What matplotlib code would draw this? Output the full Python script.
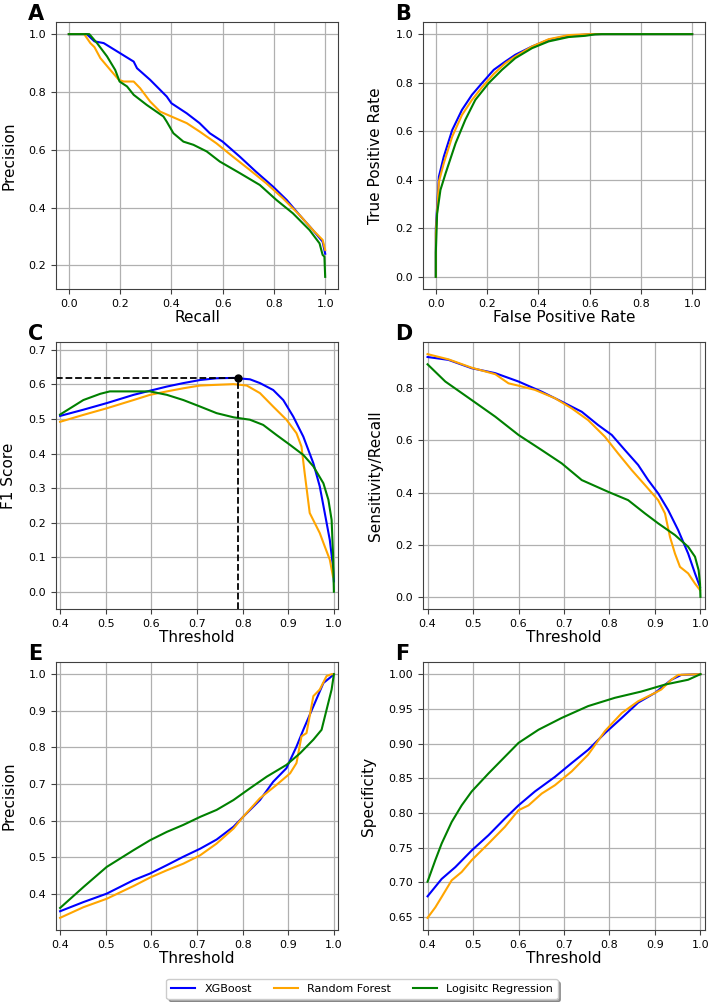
import matplotlib.pyplot as plt
import numpy as np

models = ["XGBoost", "Random Forest", "Logisitc Regression"]
colors = ["blue", "orange", "green"]

# A: precision-recall
pr_xgb_r = [0.0, 0.07, 0.10, 0.136, 0.2, 0.253, 0.266, 0.317, 0.382, 0.4, 0.46, 0.51, 0.55, 0.60, 0.667, 0.73, 0.797, 0.85, 0.9, 0.952, 0.99, 1.0]
pr_xgb_p = [1.0, 1.0, 0.975, 0.969, 0.934, 0.905, 0.882, 0.842, 0.784, 0.761, 0.726, 0.692, 0.657, 0.628, 0.576, 0.524, 0.472, 0.426, 0.374, 0.322, 0.282, 0.24]
pr_rf_r = [0.0, 0.06, 0.084, 0.1, 0.123, 0.162, 0.195, 0.214, 0.253, 0.278, 0.317, 0.356, 0.4, 0.46, 0.51, 0.576, 0.64, 0.706, 0.77, 0.835, 0.9, 0.952, 0.99, 1.0]
pr_rf_p = [1.0, 1.0, 0.969, 0.955, 0.917, 0.876, 0.842, 0.836, 0.836, 0.813, 0.767, 0.732, 0.715, 0.692, 0.663, 0.622, 0.576, 0.530, 0.484, 0.432, 0.374, 0.322, 0.288, 0.253]
pr_lr_r = [0.0, 0.08, 0.11, 0.149, 0.181, 0.198, 0.227, 0.253, 0.304, 0.369, 0.382, 0.408, 0.447, 0.486, 0.538, 0.589, 0.667, 0.745, 0.81, 0.874, 0.939, 0.978, 0.99, 0.997, 1.0]
pr_lr_p = [1.0, 1.0, 0.969, 0.923, 0.876, 0.836, 0.819, 0.79, 0.755, 0.715, 0.697, 0.657, 0.628, 0.617, 0.594, 0.559, 0.519, 0.478, 0.426, 0.38, 0.322, 0.276, 0.236, 0.23, 0.16]

# B: ROC
roc_xgb_f = [0.0, 0.0, 0.012, 0.031, 0.064, 0.102, 0.141, 0.18, 0.226, 0.271, 0.31, 0.375, 0.44, 0.518, 0.595, 0.647, 1.0]
roc_xgb_t = [0.0, 0.2, 0.413, 0.495, 0.605, 0.688, 0.75, 0.798, 0.853, 0.887, 0.915, 0.949, 0.977, 0.993, 0.999, 1.0, 1.0]
roc_rf_f = [0.0, 0.0, 0.012, 0.031, 0.064, 0.102, 0.141, 0.18, 0.226, 0.271, 0.31, 0.375, 0.44, 0.518, 0.595, 1.0]
roc_rf_t = [0.0, 0.18, 0.392, 0.468, 0.578, 0.667, 0.729, 0.781, 0.836, 0.88, 0.908, 0.949, 0.979, 0.996, 1.0, 1.0]
roc_lr_f = [0.0, 0.0, 0.005, 0.018, 0.038, 0.077, 0.115, 0.154, 0.206, 0.258, 0.31, 0.375, 0.44, 0.518, 0.582, 0.621, 0.647, 1.0]
roc_lr_t = [0.0, 0.1, 0.26, 0.358, 0.426, 0.55, 0.647, 0.729, 0.798, 0.853, 0.901, 0.942, 0.97, 0.988, 0.993, 0.999, 1.0, 1.0]

# C: F1 vs threshold
f1_xgb_t = [0.4, 0.451, 0.502, 0.561, 0.597, 0.634, 0.67, 0.707, 0.743, 0.78, 0.816, 0.838, 0.867, 0.889, 0.911, 0.933, 0.955, 0.969, 0.98, 0.991, 0.998, 1.0]
f1_xgb_f = [0.509, 0.527, 0.546, 0.57, 0.582, 0.594, 0.604, 0.613, 0.618, 0.619, 0.615, 0.604, 0.584, 0.555, 0.507, 0.449, 0.372, 0.305, 0.228, 0.15, 0.073, 0.03]
f1_rf_t = [0.4, 0.451, 0.502, 0.561, 0.597, 0.634, 0.67, 0.707, 0.743, 0.78, 0.809, 0.838, 0.867, 0.896, 0.918, 0.929, 0.936, 0.947, 0.958, 0.969, 0.98, 0.991, 0.998]
f1_rf_f = [0.492, 0.512, 0.531, 0.555, 0.57, 0.58, 0.589, 0.597, 0.599, 0.601, 0.597, 0.575, 0.536, 0.498, 0.459, 0.42, 0.343, 0.228, 0.199, 0.17, 0.131, 0.093, 0.044]
f1_lr_t = [0.4, 0.451, 0.488, 0.509, 0.561, 0.597, 0.634, 0.67, 0.707, 0.743, 0.78, 0.816, 0.845, 0.874, 0.904, 0.933, 0.955, 0.977, 0.988, 0.995, 0.998, 1.0]
f1_lr_f = [0.513, 0.555, 0.573, 0.58, 0.58, 0.58, 0.57, 0.555, 0.536, 0.517, 0.505, 0.498, 0.483, 0.454, 0.425, 0.396, 0.363, 0.314, 0.266, 0.208, 0.112, 0.0]
best_t, best_f1 = 0.79, 0.619

# D: sensitivity vs threshold
se_xgb_t = [0.4, 0.446, 0.497, 0.549, 0.6, 0.651, 0.695, 0.739, 0.775, 0.805, 0.834, 0.863, 0.885, 0.907, 0.929, 0.951, 0.973, 0.988, 0.999]
se_xgb_s = [0.92, 0.909, 0.877, 0.858, 0.826, 0.787, 0.749, 0.71, 0.659, 0.621, 0.563, 0.506, 0.448, 0.397, 0.333, 0.256, 0.166, 0.09, 0.038]
se_rf_t = [0.4, 0.446, 0.497, 0.549, 0.578, 0.6, 0.636, 0.68, 0.717, 0.753, 0.79, 0.819, 0.849, 0.878, 0.907, 0.922, 0.933, 0.944, 0.955, 0.973, 0.988, 0.999]
se_rf_s = [0.931, 0.911, 0.879, 0.854, 0.819, 0.81, 0.794, 0.762, 0.723, 0.678, 0.614, 0.55, 0.486, 0.429, 0.371, 0.32, 0.23, 0.166, 0.115, 0.09, 0.051, 0.026]
se_lr_t = [0.4, 0.439, 0.497, 0.549, 0.6, 0.651, 0.695, 0.739, 0.797, 0.841, 0.878, 0.907, 0.944, 0.973, 0.988, 0.996, 0.999, 1.0]
se_lr_s = [0.892, 0.826, 0.755, 0.691, 0.621, 0.563, 0.512, 0.448, 0.403, 0.371, 0.32, 0.282, 0.237, 0.192, 0.154, 0.102, 0.051, 0.0]

# E: precision vs threshold
pt_xgb_t = [0.4, 0.451, 0.502, 0.561, 0.597, 0.634, 0.67, 0.707, 0.743, 0.78, 0.801, 0.838, 0.867, 0.896, 0.918, 0.933, 0.955, 0.977, 0.991, 1.0]
pt_xgb_p = [0.352, 0.377, 0.4, 0.437, 0.455, 0.478, 0.501, 0.523, 0.548, 0.583, 0.61, 0.656, 0.706, 0.743, 0.802, 0.848, 0.912, 0.976, 0.99, 1.0]
pt_rf_t = [0.4, 0.451, 0.502, 0.561, 0.597, 0.634, 0.67, 0.707, 0.743, 0.78, 0.801, 0.838, 0.874, 0.904, 0.918, 0.929, 0.94, 0.955, 0.969, 0.984, 0.995, 1.0]
pt_rf_p = [0.334, 0.363, 0.386, 0.421, 0.444, 0.464, 0.482, 0.505, 0.537, 0.578, 0.61, 0.661, 0.697, 0.729, 0.757, 0.83, 0.839, 0.94, 0.958, 0.995, 1.0, 1.0]
pt_lr_t = [0.4, 0.451, 0.502, 0.561, 0.597, 0.634, 0.67, 0.707, 0.743, 0.78, 0.816, 0.853, 0.896, 0.926, 0.955, 0.973, 0.984, 0.995, 1.0]
pt_lr_p = [0.361, 0.418, 0.473, 0.519, 0.546, 0.569, 0.588, 0.61, 0.629, 0.656, 0.688, 0.72, 0.752, 0.784, 0.821, 0.848, 0.903, 0.958, 1.0]

# F: specificity vs threshold
sp_xgb_t = [0.4, 0.431, 0.461, 0.497, 0.534, 0.57, 0.6, 0.636, 0.68, 0.717, 0.753, 0.79, 0.827, 0.863, 0.9, 0.936, 0.958, 1.0]
sp_xgb_s = [0.68, 0.705, 0.722, 0.746, 0.768, 0.792, 0.811, 0.831, 0.852, 0.872, 0.891, 0.915, 0.937, 0.959, 0.973, 0.992, 0.999, 1.0]
sp_rf_t = [0.4, 0.417, 0.431, 0.453, 0.475, 0.497, 0.534, 0.57, 0.6, 0.622, 0.651, 0.68, 0.717, 0.753, 0.79, 0.827, 0.863, 0.9, 0.914, 0.936, 0.951, 1.0]
sp_rf_s = [0.649, 0.664, 0.679, 0.703, 0.715, 0.732, 0.756, 0.78, 0.804, 0.811, 0.828, 0.84, 0.86, 0.884, 0.918, 0.944, 0.961, 0.973, 0.978, 0.992, 0.999, 1.0]
sp_lr_t = [0.4, 0.417, 0.431, 0.453, 0.475, 0.497, 0.534, 0.57, 0.6, 0.644, 0.695, 0.753, 0.812, 0.87, 0.922, 0.973, 1.0]
sp_lr_s = [0.701, 0.732, 0.756, 0.787, 0.811, 0.831, 0.857, 0.881, 0.901, 0.92, 0.937, 0.954, 0.966, 0.975, 0.985, 0.992, 1.0]

W, H = 712, 1002
fig = plt.figure(figsize=(W / 100, H / 100), dpi=100)


def px_axes(left, top, right, bottom):
    return fig.add_axes([left / W, 1 - bottom / H, (right - left) / W, (bottom - top) / H])


def style(ax, xlabel, ylabel, letter, lx, ly):
    ax.grid(True, color="#b0b0b0", lw=0.9)
    ax.set_axisbelow(True)
    ax.tick_params(labelsize=8, length=3.5, width=0.8, color="0.25")
    for s in ax.spines.values():
        s.set_color("0.25")
    ax.set_xlabel(xlabel, fontsize=11, labelpad=1)
    ax.set_ylabel(ylabel, fontsize=11, labelpad=9)
    fig.text(lx / W, 1 - ly / H, letter, fontsize=15, fontweight="bold", va="baseline")


lw = 1.5

axA = px_axes(56, 22, 338, 289)
for (x, y), c, m in zip([(pr_xgb_r, pr_xgb_p), (pr_rf_r, pr_rf_p), (pr_lr_r, pr_lr_p)], colors, models):
    axA.plot(x, y, color=c, lw=lw, label=m)
axA.set_xticks(np.arange(0, 1.01, 0.2))
axA.set_yticks(np.arange(0.2, 1.01, 0.2))
style(axA, "Recall", "Precision", "A", 28, 20)

axB = px_axes(423, 22, 705, 289)
for (x, y), c in zip([(roc_xgb_f, roc_xgb_t), (roc_rf_f, roc_rf_t), (roc_lr_f, roc_lr_t)], colors):
    axB.plot(x, y, color=c, lw=lw)
axB.set_xticks(np.arange(0, 1.01, 0.2))
axB.set_yticks(np.arange(0, 1.01, 0.2))
style(axB, "False Positive Rate", "True Positive Rate", "B", 395, 20)

axC = px_axes(56, 342, 338, 609)
for (x, y), c in zip([(f1_xgb_t, f1_xgb_f), (f1_rf_t, f1_rf_f), (f1_lr_t, f1_lr_f)], colors):
    axC.plot(x, y, color=c, lw=lw)
axC.set_xlim(0.391, 1.009)
axC.set_ylim(-0.05, 0.723)
axC.plot([0.391, best_t], [best_f1, best_f1], "k--", lw=1.3)
axC.plot([best_t, best_t], [-0.05, best_f1], "k--", lw=1.3)
axC.plot(best_t, best_f1, "ko", ms=5)
axC.set_xticks(np.arange(0.4, 1.01, 0.1))
axC.set_yticks(np.arange(0, 0.71, 0.1))
style(axC, "Threshold", "F1 Score", "C", 28, 340)

axD = px_axes(423, 342, 705, 609)
for (x, y), c in zip([(se_xgb_t, se_xgb_s), (se_rf_t, se_rf_s), (se_lr_t, se_lr_s)], colors):
    axD.plot(x, y, color=c, lw=lw)
axD.set_xlim(0.39, 1.01)
axD.set_xticks(np.arange(0.4, 1.01, 0.1))
axD.set_yticks(np.arange(0, 0.81, 0.2))
style(axD, "Threshold", "Sensitivity/Recall", "D", 395, 340)

axE = px_axes(56, 662, 338, 930)
for (x, y), c in zip([(pt_xgb_t, pt_xgb_p), (pt_rf_t, pt_rf_p), (pt_lr_t, pt_lr_p)], colors):
    axE.plot(x, y, color=c, lw=lw)
axE.set_xlim(0.391, 1.009)
axE.set_xticks(np.arange(0.4, 1.01, 0.1))
axE.set_yticks(np.arange(0.4, 1.01, 0.1))
style(axE, "Threshold", "Precision", "E", 28, 660)

axF = px_axes(423, 662, 705, 930)
for (x, y), c in zip([(sp_xgb_t, sp_xgb_s), (sp_rf_t, sp_rf_s), (sp_lr_t, sp_lr_s)], colors):
    axF.plot(x, y, color=c, lw=lw)
axF.set_xlim(0.39, 1.01)
axF.set_xticks(np.arange(0.4, 1.01, 0.1))
axF.set_yticks(np.arange(0.65, 1.001, 0.05))
style(axF, "Threshold", "Specificity", "F", 395, 660)

handles, labels = axA.get_legend_handles_labels()
fig.legend(handles, labels, loc="center", bbox_to_anchor=(362 / W, 1 - 989 / H), ncol=3,
           fontsize=8, frameon=True, shadow=True, fancybox=True, handlelength=2.15,
           columnspacing=2.0, borderpad=0.45)

fig.savefig("out.png", dpi=100)
